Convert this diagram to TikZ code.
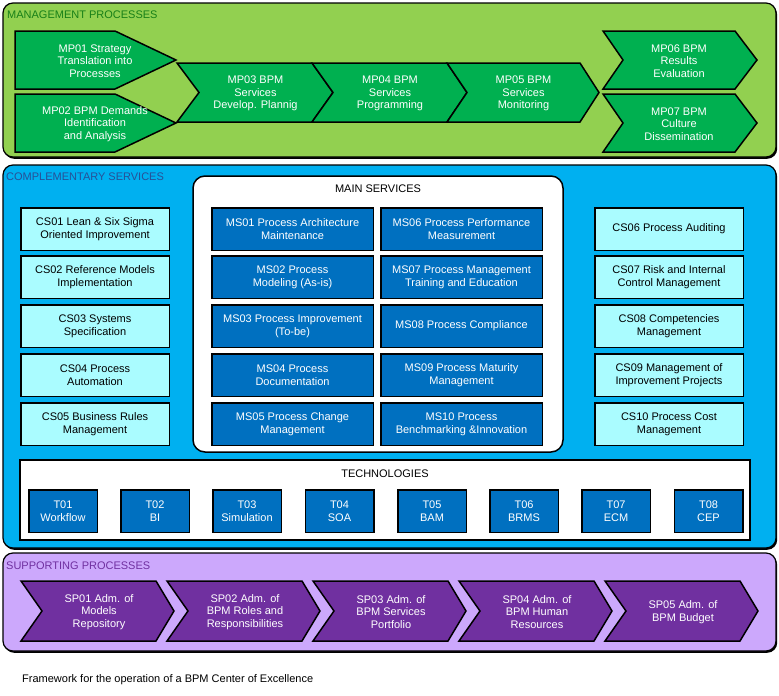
\documentclass[tikz,border=0pt]{standalone}
\usepackage{fontspec}
\setmainfont{Liberation Sans}
\usetikzlibrary{shadows}

\definecolor{mgmtbg}{RGB}{146,208,80}
\definecolor{mgmtarrow}{RGB}{0,176,80}
\definecolor{mgmttext}{RGB}{24,128,24}
\definecolor{compbg}{RGB}{0,176,240}
\definecolor{comptext}{RGB}{40,80,150}
\definecolor{csfill}{RGB}{170,252,255}
\definecolor{msfill}{RGB}{0,112,192}
\definecolor{suppbg}{RGB}{204,168,252}
\definecolor{supparrow}{RGB}{112,48,160}

% style, name, left, top, right, bottom, notch, tip
\newcommand{\procarrow}[8]{%
  \draw[#1] (#3,#4) -- (#5,#4) -- ({#5+#8},{(#4+#6)/2}) -- (#5,#6)
    -- (#3,#6) -- ({#3+#7},{(#4+#6)/2}) -- cycle;
  \coordinate (#2) at ({(#3+#5+#7)/2},{(#4+#6)/2});}

\tikzset{
  lbl/.style={font=\fontsize{11}{12.7}\selectfont, inner sep=0pt, align=center},
  region/.style={draw=black, line width=1.2pt, rounded corners=10pt,
    drop shadow={shadow xshift=1.2pt, shadow yshift=-1.8pt, fill=black, opacity=1}},
  regionlabel/.style={lbl, anchor=west},
  mparrow/.style={draw=black, line width=1.5pt, line join=miter, fill=mgmtarrow},
  sparrow/.style={draw=black, line width=1.5pt, line join=miter, fill=supparrow},
  msbox/.style={lbl, draw=black, line width=1.5pt, fill=msfill, text=white,
    minimum width=161.5pt, minimum height=42.5pt},
  csbox/.style={lbl, draw=black, line width=1.5pt, fill=csfill,
    minimum width=148.5pt, minimum height=42.5pt},
  techbox/.style={lbl, font=\fontsize{11}{13.5}\selectfont, draw=black, line width=1.5pt,
    fill=msfill, text=white, minimum width=68.5pt, minimum height=42.5pt}
}

\begin{document}
\begin{tikzpicture}[x=1pt,y=-1pt]
  \useasboundingbox[fill=white] (0,0) rectangle (779,696);

  % management processes
  \path[region, fill=mgmtbg] (3,3) rectangle (776,157);
  \node[regionlabel, text=mgmttext] (mgmt) at (7,15) {MANAGEMENT PROCESSES};
  \procarrow{mparrow}{mp01}{15}{31}{115}{89}{0}{61}
  \procarrow{mparrow}{mp02}{15}{94}{115}{152}{0}{61}
  \procarrow{mparrow}{mp03}{177}{63}{312}{122}{22}{21}
  \procarrow{mparrow}{mp04}{312}{63}{447}{122}{21}{20}
  \procarrow{mparrow}{mp05}{447}{63}{580}{122}{20}{19}
  \procarrow{mparrow}{mp06}{603}{31}{735}{89}{20}{22}
  \procarrow{mparrow}{mp07}{603}{94}{735}{152}{20}{22}
  \node[lbl, text=white] (mp01t) at (95,61) {MP01 Strategy\\Translation into\\Processes};
  \node[lbl, text=white] (mp02t) at (95,124) {MP02 BPM Demands\\Identification\\and Analysis};
  \node[lbl, text=white] (mp03t) at ([yshift=-1pt]mp03) {MP03 BPM\\Services\\Develop. Plannig};
  \node[lbl, text=white] (mp04t) at ([yshift=-1pt]mp04) {MP04 BPM\\Services\\Programming};
  \node[lbl, text=white] (mp05t) at ([yshift=-1pt]mp05) {MP05 BPM\\Services\\Monitoring};
  \node[lbl, text=white] (mp06t) at ([yshift=-1pt]mp06) {MP06 BPM\\Results\\Evaluation};
  \node[lbl, text=white] (mp07t) at ([yshift=-1pt]mp07) {MP07 BPM\\Culture\\Dissemination};

  % complementary services
  \path[region, fill=compbg] (3,165) rectangle (776,548);
  \node[regionlabel, text=comptext] (comp) at (6,177) {COMPLEMENTARY SERVICES};
  \draw[line width=1.5pt, rounded corners=12pt, fill=white] (193,176) rectangle (563,452);
  \node[lbl] (main) at (378,189) {MAIN SERVICES};

  \node[csbox] (cs01) at (95,229) {CS01 Lean \& Six Sigma\\Oriented Improvement};
  \node[csbox] (cs02) at (95,277) {CS02 Reference Models\\Implementation};
  \node[csbox] (cs03) at (95,326) {CS03 Systems\\Specification};
  \node[csbox] (cs04) at (95,375) {CS04 Process\\Automation};
  \node[csbox] (cs05) at (95,424) {CS05 Business Rules\\Management};

  \node[msbox] (ms01) at (292.5,229) {MS01 Process Architecture\\Maintenance};
  \node[msbox] (ms02) at (292.5,277) {MS02 Process\\Modeling (As-is)};
  \node[msbox] (ms03) at (292.5,326) {MS03 Process Improvement\\(To-be)};
  \node[msbox] (ms04) at (292.5,375) {MS04 Process\\Documentation};
  \node[msbox] (ms05) at (292.5,424) {MS05 Process Change\\Management};
  \node[msbox] (ms06) at (461.5,229) {MS06 Process Performance\\Measurement};
  \node[msbox] (ms07) at (461.5,277) {MS07 Process Management\\Training and Education};
  \node[msbox] (ms08) at (461.5,326) {MS08 Process Compliance};
  \node[msbox] (ms09) at (461.5,375) {MS09 Process Maturity\\Management};
  \node[msbox] (ms10) at (461.5,424) {MS10 Process\\Benchmarking \&Innovation};

  \node[csbox] (cs06) at (669,229) {CS06 Process Auditing};
  \node[csbox] (cs07) at (669,277) {CS07 Risk and Internal\\Control Management};
  \node[csbox] (cs08) at (669,326) {CS08 Competencies\\Management};
  \node[csbox] (cs09) at (669,375) {CS09 Management of\\Improvement Projects};
  \node[csbox] (cs10) at (669,424) {CS10 Process Cost\\Management};

  % technologies
  \draw[line width=1.5pt, fill=white] (20,460) rectangle (750,540);
  \node[lbl] (tech) at (385,474) {TECHNOLOGIES};
  \node[techbox] (t01) at (63,511) {T01\\Workflow};
  \node[techbox] (t02) at (155,511) {T02\\BI};
  \node[techbox] (t03) at (247,511) {T03\\Simulation};
  \node[techbox] (t04) at (339.5,511) {T04\\SOA};
  \node[techbox] (t05) at (432,511) {T05\\BAM};
  \node[techbox] (t06) at (524,511) {T06\\BRMS};
  \node[techbox] (t07) at (616,511) {T07\\ECM};
  \node[techbox] (t08) at (708.5,511) {T08\\CEP};

  % supporting processes
  \path[region, fill=suppbg] (3,553) rectangle (776,651);
  \node[regionlabel, text=supparrow] (supp) at (6,566) {SUPPORTING PROCESSES};
  \procarrow{sparrow}{sp01}{21}{581}{156}{641}{21}{18}
  \procarrow{sparrow}{sp02}{167}{581}{302}{641}{21}{18}
  \procarrow{sparrow}{sp03}{313}{581}{448}{641}{21}{18}
  \procarrow{sparrow}{sp04}{459}{581}{594}{641}{21}{18}
  \procarrow{sparrow}{sp05}{605}{581}{740}{641}{21}{18}
  \node[lbl, text=white] (sp01t) at ([yshift=-1pt]sp01) {SP01 Adm. of\\Models\\Repository};
  \node[lbl, text=white] (sp02t) at ([yshift=-1pt]sp02) {SP02 Adm. of\\BPM Roles and\\Responsibilities};
  \node[lbl, text=white] (sp03t) at ([yshift=-1pt]sp03) {SP03 Adm. of\\BPM Services\\Portfolio};
  \node[lbl, text=white] (sp04t) at ([yshift=-1pt]sp04) {SP04 Adm. of\\BPM Human\\Resources};
  \node[lbl, text=white] (sp05t) at ([yshift=-1pt]sp05) {SP05 Adm. of\\BPM Budget};

  \node[anchor=west, inner sep=0pt, font=\fontsize{11}{13}\selectfont] (caption) at (22,680)
    {Framework for the operation of a BPM Center of Excellence};
\end{tikzpicture}
\end{document}
